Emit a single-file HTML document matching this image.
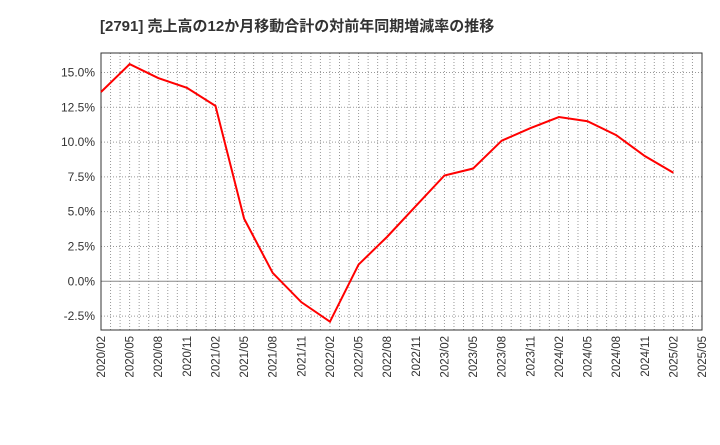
<!DOCTYPE html>
<html><head><meta charset="utf-8"><style>
body{margin:0;background:#fff;font-family:"Liberation Sans","Noto Sans CJK JP",sans-serif}
</style></head><body>
<svg id="c" width="720" height="440" xmlns="http://www.w3.org/2000/svg">
<text x="100" y="31" font-size="15" font-weight="bold" fill="#333">[2791]  売上高の12か月移動合計の対前年同期増減率の推移</text>
</svg>
<script>
const categories=["2020/02","2020/05","2020/08","2020/11","2021/02","2021/05","2021/08","2021/11","2022/02","2022/05","2022/08","2022/11","2023/02","2023/05","2023/08","2023/11","2024/02","2024/05","2024/08","2024/11","2025/02"];
const values=[13.6,15.6,14.6,13.9,12.6,4.5,0.6,-1.5,-2.9,1.2,3.2,5.4,7.6,8.1,10.1,11.0,11.8,11.5,10.5,9.0,7.8];
const xTickLabels=["2020/02","2020/05","2020/08","2020/11","2021/02","2021/05","2021/08","2021/11","2022/02","2022/05","2022/08","2022/11","2023/02","2023/05","2023/08","2023/11","2024/02","2024/05","2024/08","2024/11","2025/02","2025/05"];
const yTicks=[-2.5,0,2.5,5,7.5,10,12.5,15];
const NS="http://www.w3.org/2000/svg";
const svg=document.getElementById('c');
const L=101,R=702,T=53,B=330,yMin=-3.5,yMax=16.4;
const nQ=xTickLabels.length-1;
function xq(i){return L+(R-L)*i/nQ;}
function ym(v){return B-(v-yMin)/(yMax-yMin)*(B-T);}
function mk(t,a){const e=document.createElementNS(NS,t);for(const k in a)e.setAttribute(k,a[k]);svg.appendChild(e);return e;}
for(let m=1;m<nQ*3;m++){const x=L+(R-L)*m/(nQ*3);
const g=mk('line',{x1:x,x2:x,y1:T,y2:B,stroke:'#999','stroke-dasharray':'1,2','stroke-width':1});

}
yTicks.forEach(v=>{const y=ym(v);
const g=mk('line',{x1:L,x2:R,y1:y,y2:y,stroke:v===0?'#888':'#999','stroke-dasharray':v===0?'':'1,2','stroke-width':1});


const t=mk('text',{x:L-6,y:y+4,'text-anchor':'end','font-size':12,fill:'#333'});t.textContent=v.toFixed(1)+'%';

});
xTickLabels.forEach((s,i)=>{const x=xq(i);
const t=mk('text',{x:0,y:0,'text-anchor':'end','font-size':11.5,fill:'#333',transform:`translate(${x+4},${B+6}) rotate(-90)`});t.textContent=s;

});
const fr=mk('rect',{x:L,y:T,width:R-L,height:B-T,fill:'none',stroke:'#333','stroke-width':1});


const pts=values.map((v,i)=>xq(categories.indexOf(categories[i]))+','+ym(v)).join(' ');
const pl=mk('polyline',{points:pts,fill:'none',stroke:'#f00','stroke-width':2});


</script>
</body></html>
